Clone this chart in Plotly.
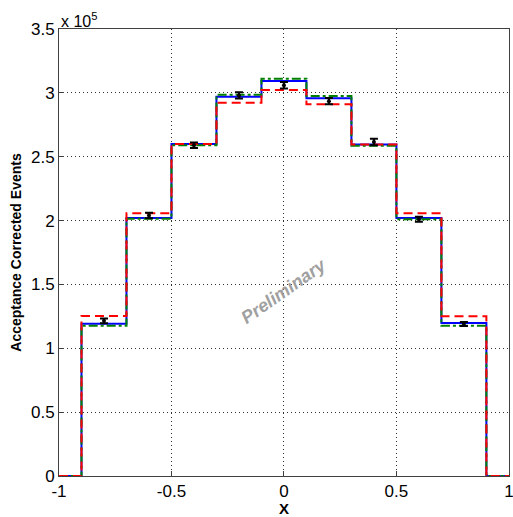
import plotly.graph_objects as go

edges = [-0.9, -0.7, -0.5, -0.3, -0.1, 0.1, 0.3, 0.5, 0.7, 0.9]
centers = [-0.8, -0.6, -0.4, -0.2, 0.0, 0.2, 0.4, 0.6, 0.8]
blue_vals = [1.193, 2.020, 2.600, 2.970, 3.093, 2.958, 2.595, 2.020, 1.198]
green_vals = [1.177, 2.015, 2.590, 2.986, 3.110, 2.976, 2.585, 2.010, 1.177]
red_vals = [1.253, 2.057, 2.600, 2.923, 3.023, 2.910, 2.595, 2.057, 1.250]
data_vals = [1.215, 2.040, 2.590, 2.980, 3.060, 2.935, 2.615, 2.010, 1.190]
data_err = [0.018, 0.022, 0.022, 0.025, 0.025, 0.025, 0.025, 0.020, 0.015]
scale = 1e5
ytick_vals = [0, 0.5, 1, 1.5, 2, 2.5, 3, 3.5]
ytick_text = ["0", "0.5", "1", "1.5", "2", "2.5", "3", "3.5"]
xtick_vals = [-1, -0.5, 0, 0.5, 1]
xtick_text = ["-1", "-0.5", "0", "0.5", "1"]


def step(vals):
    xs = [-1.0] + edges + [1.0]
    ys = [0.0] + [v * scale for v in vals] + [0.0, 0.0]
    return xs, ys


fig = go.Figure()
for vals, color, dash in [(blue_vals, "#0000ff", "solid"),
                          (green_vals, "#008000", "dashdot"),
                          (red_vals, "#ff0000", "9px,5px")]:
    xs, ys = step(vals)
    fig.add_trace(go.Scatter(x=xs, y=ys, mode="lines", line_shape="hv",
                             line=dict(color=color, width=2, dash=dash),
                             showlegend=False, hoverinfo="skip"))

fig.add_trace(go.Scatter(
    x=centers, y=[v * scale for v in data_vals], mode="markers",
    marker=dict(color="black", size=4, symbol="circle"),
    error_y=dict(type="data", array=[e * scale for e in data_err],
                 color="black", thickness=2, width=4),
    showlegend=False))

fig.add_annotation(x=0.0, y=1.45e5, text="<b><i>Preliminary</i></b>",
                   showarrow=False, textangle=-35,
                   font=dict(family="Liberation Sans, Arial", size=18, color="#a0a0a0"),
                   xref="x", yref="y")
fig.add_annotation(x=0, y=1, xref="paper", yref="paper", xanchor="left", yanchor="bottom",
                   text="x 10<sup>5</sup>", showarrow=False, yshift=-3,
                   font=dict(family="Liberation Sans, Arial", size=16, color="black"))

axis_common = dict(showline=True, linecolor="#404040", linewidth=1, mirror=True,
                   ticks="inside", ticklen=5, tickcolor="#404040",
                   showgrid=True, gridcolor="#333333", griddash="1px,3px", gridwidth=1,
                   zeroline=False, ticklabeloverflow="allow",
                   tickfont=dict(family="Liberation Sans, Arial", size=17, color="black"))

fig.update_xaxes(range=[-1, 1.0005], tickvals=xtick_vals, ticktext=xtick_text,
                 automargin=False,
                 title=dict(text="<b>X</b>", standoff=0,
                            font=dict(family="Liberation Sans, Arial", size=15, color="black")),
                 **axis_common)
fig.update_yaxes(range=[0, 3.5 * scale], tickvals=[t * scale for t in ytick_vals],
                 ticktext=ytick_text,
                 title=dict(text="<b>Acceptance Corrected Events</b>", standoff=6,
                            font=dict(family="Liberation Sans, Arial", size=14, color="black")),
                 **axis_common)

fig.update_layout(width=513, height=517, margin=dict(l=59, r=4, t=29, b=41),
                  plot_bgcolor="white", paper_bgcolor="white", showlegend=False)

fig.write_html("out.html")
